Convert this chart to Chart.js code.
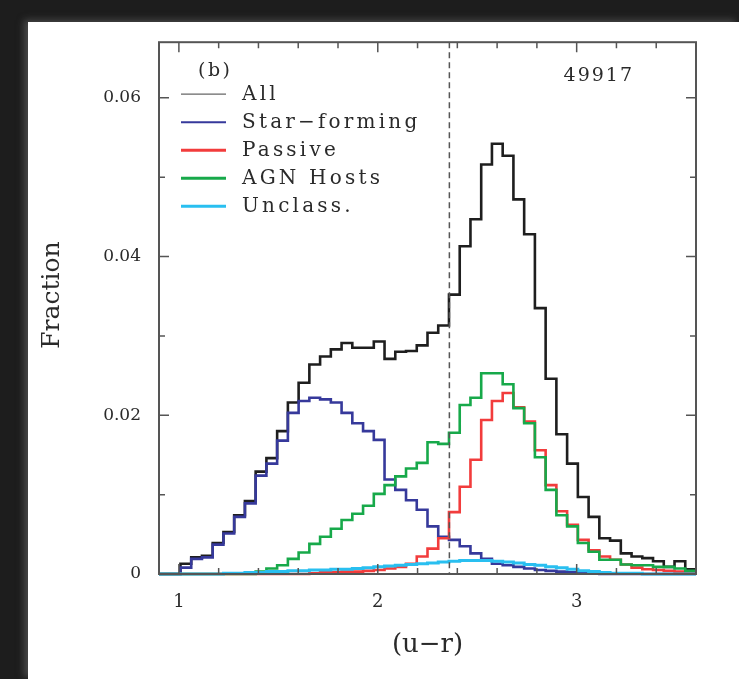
<!DOCTYPE html>
<html>
<head>
<meta charset="utf-8">
<title>(u-r) colour distribution</title>
<script src="https://cdn.jsdelivr.net/npm/chart.js@4.4.1/dist/chart.umd.min.js"></script>
<style>
  html, body { margin: 0; padding: 0; background: #1d1d1d; width: 739px; height: 679px; overflow: hidden; }
  .panel { position: absolute; left: 28px; top: 22px; width: 711px; height: 657px; background: #fff;
           box-shadow: -4px -2px 7px rgba(110, 110, 110, 0.55); }
  canvas { display: block; }
</style>
</head>
<body>
<div class="panel"><canvas id="colourHist" width="711" height="657"></canvas></div>
<script>
// histogram bins in (u-r)
const binStart = 0.9;
const binWidth = 0.054;
const xRange = [0.9, 3.6];
const yRange = [0, 0.067];
const xTickLabels = [1, 2, 3];
const xMinorTicks = [1.2, 1.4, 1.6, 1.8, 2.2, 2.4, 2.6, 2.8, 3.2, 3.4];
const yTickLabels = [0, 0.02, 0.04, 0.06];
const yMinorTicks = [0.01, 0.03, 0.05];
const dividerAt = 2.36;
const panelTag = "(b)";
const sampleSize = "49917";
const yTitle = "Fraction";

const seriesNames = ["All", "Star\u2212forming", "Passive", "AGN Hosts", "Unclass."];

const allFrac = [
  0, 0, 0.0013, 0.0021, 0.0023, 0.0039, 0.0053, 0.0074, 0.0092, 0.0129,
  0.0146, 0.0180, 0.0216, 0.0241, 0.0264, 0.0274, 0.0283, 0.0291, 0.0285, 0.0285,
  0.0293, 0.0271, 0.0280, 0.0281, 0.0288, 0.0304, 0.0313, 0.0352, 0.0413, 0.0447,
  0.0516, 0.0542, 0.0527, 0.0472, 0.0428, 0.0335, 0.0246, 0.0176, 0.0139, 0.0097,
  0.0072, 0.0045, 0.0042, 0.0026, 0.0022, 0.0020, 0.0016, 0.0009, 0.0016, 0.0006
];
const starFormingFrac = [
  0, 0, 0.0008, 0.0019, 0.0021, 0.0037, 0.0051, 0.0072, 0.0089, 0.0124,
  0.0139, 0.0168, 0.0203, 0.0218, 0.0222, 0.0220, 0.0216, 0.0203, 0.0190, 0.0180,
  0.0169, 0.0119, 0.0106, 0.0093, 0.0081, 0.0060, 0.0047, 0.0043, 0.0035, 0.0026,
  0.0019, 0.0013, 0.0011, 0.0009, 0.0007, 0.0005, 0.0004, 0.0003, 0.0002, 0.0001,
  0.0001, 0, 0, 0, 0, 0, 0, 0, 0, 0
];
const passiveFrac = [
  0, 0, 0, 0, 0, 0, 0, 0, 0, 0,
  0, 0, 0, 0, 0.0001, 0.0002, 0.0002, 0.0003, 0.0003, 0.0004,
  0.0005, 0.0007, 0.0009, 0.0013, 0.0022, 0.0032, 0.0045, 0.0078, 0.0110, 0.0144,
  0.0194, 0.0218, 0.0228, 0.0210, 0.0192, 0.0156, 0.0112, 0.0079, 0.0062, 0.0043,
  0.0030, 0.0022, 0.0018, 0.0012, 0.0008, 0.0006, 0.0005, 0.0004, 0.0003, 0.0002
];
const agnHostFrac = [
  0, 0, 0, 0, 0, 0, 0, 0, 0, 0.0003,
  0.0007, 0.0011, 0.0019, 0.0027, 0.0038, 0.0047, 0.0057, 0.0068, 0.0076, 0.0086,
  0.0101, 0.0112, 0.0123, 0.0133, 0.0140, 0.0166, 0.0164, 0.0178, 0.0213, 0.0222,
  0.0253, 0.0253, 0.0239, 0.0209, 0.0190, 0.0147, 0.0106, 0.0074, 0.0060, 0.0039,
  0.0028, 0.0018, 0.0018, 0.0012, 0.0011, 0.0011, 0.0009, 0.0009, 0.0007, 0.0004
];
const unclassFrac = [
  0, 0, 0, 0, 0, 0, 0.0001, 0.0001, 0.0002, 0.0002,
  0.0003, 0.0003, 0.0004, 0.0004, 0.0005, 0.0005, 0.0006, 0.0006, 0.0007, 0.0008,
  0.0009, 0.0010, 0.0011, 0.0012, 0.0013, 0.0014, 0.0015, 0.0016, 0.0017, 0.0017,
  0.0017, 0.0016, 0.0015, 0.0014, 0.0012, 0.0011, 0.0009, 0.0008, 0.0006, 0.0004,
  0.0003, 0.0002, 0.0001, 0.0001, 0.0001, 0, 0, 0, 0, 0
];

// left bin edges plus the closing edge, for step lines
function toSteps(vals) {
  const pts = vals.map((v, i) => ({ x: binStart + i * binWidth, y: v }));
  pts.push({ x: binStart + vals.length * binWidth, y: vals[vals.length - 1] });
  return pts;
}

const textColour = "#2a2a2a";
const serif = "'DejaVu Serif', 'Liberation Serif', serif";

const framePlugin = {
  id: "framePlugin",
  afterDatasetsDraw(chart) {
    const ctx = chart.ctx;
    const area = chart.chartArea;
    const xs = chart.scales.x;
    const ys = chart.scales.y;
    ctx.save();

    // dividing line
    const dx = xs.getPixelForValue(dividerAt);
    ctx.strokeStyle = "#555";
    ctx.lineWidth = 1.5;
    ctx.setLineDash([6, 4]);
    ctx.beginPath();
    ctx.moveTo(dx, area.top);
    ctx.lineTo(dx, area.bottom);
    ctx.stroke();
    ctx.setLineDash([]);

    // box
    ctx.strokeStyle = "#555";
    ctx.lineWidth = 2;
    ctx.strokeRect(area.left, area.top, area.right - area.left, area.bottom - area.top);

    // inward ticks on all sides
    ctx.lineWidth = 1.5;
    const tickX = (v, len) => {
      const p = xs.getPixelForValue(v);
      ctx.beginPath();
      ctx.moveTo(p, area.bottom); ctx.lineTo(p, area.bottom - len);
      ctx.moveTo(p, area.top); ctx.lineTo(p, area.top + len);
      ctx.stroke();
    };
    const tickY = (v, len) => {
      const p = ys.getPixelForValue(v);
      ctx.beginPath();
      ctx.moveTo(area.left, p); ctx.lineTo(area.left + len, p);
      ctx.moveTo(area.right, p); ctx.lineTo(area.right - len, p);
      ctx.stroke();
    };
    xTickLabels.forEach(v => tickX(v, 10));
    xMinorTicks.forEach(v => tickX(v, 6));
    yTickLabels.forEach(v => tickY(v, 10));
    yMinorTicks.forEach(v => tickY(v, 6));

    // legend
    ctx.font = "20px " + serif;
    ctx.fillStyle = textColour;
    ctx.textBaseline = "middle";
    ctx.letterSpacing = "3.2px";
    chart.data.datasets.forEach((ds, k) => {
      const y = area.top + 52 + k * 28;
      ctx.strokeStyle = k === 0 ? "#666" : ds.borderColor;
      ctx.lineWidth = k === 0 ? 1.2 : (k === 1 ? 2 : 3);
      ctx.beginPath();
      ctx.moveTo(area.left + 22, y);
      ctx.lineTo(area.left + 67, y);
      ctx.stroke();
      ctx.textAlign = "left";
      ctx.fillText(ds.label, area.left + 83, y + 1);
    });

    // panel tag and sample size
    ctx.font = "19px " + serif;
    ctx.letterSpacing = "2.5px";
    ctx.textAlign = "left";
    ctx.fillText(panelTag, area.left + 39, area.top + 29);
    ctx.letterSpacing = "2px";
    ctx.textAlign = "right";
    ctx.fillText(sampleSize, area.right - 62, area.top + 34);

    // y axis title
    ctx.letterSpacing = "0px";
    ctx.font = "25px " + serif;
    ctx.textAlign = "center";
    ctx.translate(24, (area.top + area.bottom) / 2 - 13);
    ctx.rotate(-Math.PI / 2);
    ctx.fillText(yTitle, 0, 0);
    ctx.restore();
  }
};

const lineStyle = (label, colour, width, order, vals) => ({
  label: label,
  data: toSteps(vals),
  borderColor: colour,
  borderWidth: width,
  stepped: true,
  pointRadius: 0,
  fill: false,
  clip: false,
  order: order
});

const ctx = document.getElementById("colourHist").getContext("2d");
new Chart(ctx, {
  type: "line",
  data: {
    datasets: [
      lineStyle(seriesNames[0], "#1e1e1e", 2.6, 5, allFrac),
      lineStyle(seriesNames[1], "#36399b", 2.6, 4, starFormingFrac),
      lineStyle(seriesNames[2], "#f23c3c", 2.6, 3, passiveFrac),
      lineStyle(seriesNames[3], "#17a94a", 2.6, 2, agnHostFrac),
      lineStyle(seriesNames[4], "#29bff0", 3, 1, unclassFrac)
    ]
  },
  options: {
    responsive: false,
    animation: false,
    layout: { padding: { top: 11, right: 43, left: 0, bottom: 0 } },
    plugins: {
      legend: { display: false },
      tooltip: { enabled: false }
    },
    scales: {
      x: {
        type: "linear",
        min: xRange[0],
        max: xRange[1],
        afterBuildTicks: s => { s.ticks = xTickLabels.map(v => ({ value: v })); },
        afterFit: s => { s.height = 105; },
        grid: { display: false },
        border: { display: false },
        ticks: {
          color: textColour,
          font: { family: serif, size: 18 },
          padding: 10,
          maxRotation: 0,
          callback: v => String(v)
        },
        title: {
          display: true,
          text: "(u\u2212r)",
          color: textColour,
          font: { family: serif, size: 26 },
          padding: { top: 0, bottom: 18 }
        }
      },
      y: {
        type: "linear",
        min: yRange[0],
        max: yRange[1],
        afterBuildTicks: s => { s.ticks = yTickLabels.map(v => ({ value: v })); },
        afterFit: s => { s.width = 131; },
        grid: { display: false },
        border: { display: false },
        ticks: {
          color: textColour,
          font: { family: serif, size: 17 },
          padding: 10,
          callback: v => (v === 0 ? "0" : v.toFixed(2))
        },
        title: { display: false }
      }
    }
  },
  plugins: [framePlugin]
});
</script>
</body>
</html>
